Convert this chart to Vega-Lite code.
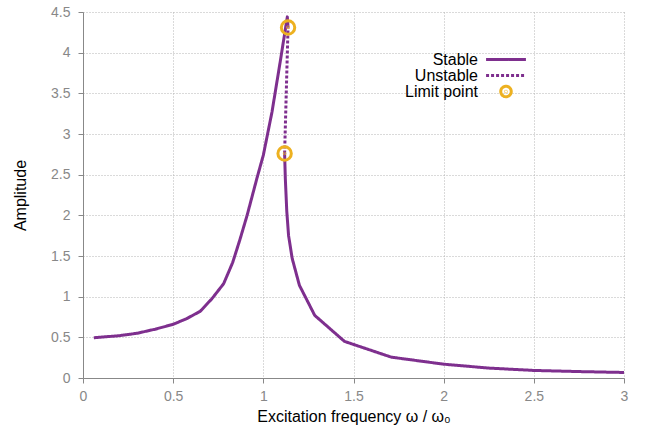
{
  "$schema": "https://vega.github.io/schema/vega-lite/v6.json",
  "width": 541,
  "height": 366,
  "autosize": "none",
  "padding": {"left": 83, "top": 12, "right": 27, "bottom": 54},
  "background": "white",
  "config": {"view": {"stroke": null}, "font": "Liberation Sans"},
  "datasets": {
    "curve": [
      {"w": 0.06, "amp": 0.495, "type": "Stable", "seg": "upper"},
      {"w": 0.2, "amp": 0.52, "type": "Stable", "seg": "upper"},
      {"w": 0.3, "amp": 0.55, "type": "Stable", "seg": "upper"},
      {"w": 0.4, "amp": 0.6, "type": "Stable", "seg": "upper"},
      {"w": 0.5, "amp": 0.66, "type": "Stable", "seg": "upper"},
      {"w": 0.575, "amp": 0.73, "type": "Stable", "seg": "upper"},
      {"w": 0.65, "amp": 0.82, "type": "Stable", "seg": "upper"},
      {"w": 0.715, "amp": 0.975, "type": "Stable", "seg": "upper"},
      {"w": 0.78, "amp": 1.16, "type": "Stable", "seg": "upper"},
      {"w": 0.83, "amp": 1.42, "type": "Stable", "seg": "upper"},
      {"w": 0.87, "amp": 1.7, "type": "Stable", "seg": "upper"},
      {"w": 0.91, "amp": 2.0, "type": "Stable", "seg": "upper"},
      {"w": 0.965, "amp": 2.46, "type": "Stable", "seg": "upper"},
      {"w": 1.0, "amp": 2.74, "type": "Stable", "seg": "upper"},
      {"w": 1.048, "amp": 3.27, "type": "Stable", "seg": "upper"},
      {"w": 1.093, "amp": 3.88, "type": "Stable", "seg": "upper"},
      {"w": 1.133, "amp": 4.44, "type": "Stable", "seg": "upper"},
      {"w": 1.137, "amp": 4.31, "type": "Stable", "seg": "upper"},
      {"w": 1.137, "amp": 4.31, "type": "Unstable", "seg": "mid"},
      {"w": 1.118, "amp": 2.76, "type": "Unstable", "seg": "mid"},
      {"w": 1.118, "amp": 2.76, "type": "Stable", "seg": "lower"},
      {"w": 1.122, "amp": 2.45, "type": "Stable", "seg": "lower"},
      {"w": 1.13, "amp": 2.05, "type": "Stable", "seg": "lower"},
      {"w": 1.14, "amp": 1.75, "type": "Stable", "seg": "lower"},
      {"w": 1.16, "amp": 1.47, "type": "Stable", "seg": "lower"},
      {"w": 1.2, "amp": 1.14, "type": "Stable", "seg": "lower"},
      {"w": 1.285, "amp": 0.77, "type": "Stable", "seg": "lower"},
      {"w": 1.45, "amp": 0.45, "type": "Stable", "seg": "lower"},
      {"w": 1.71, "amp": 0.256, "type": "Stable", "seg": "lower"},
      {"w": 2.0, "amp": 0.17, "type": "Stable", "seg": "lower"},
      {"w": 2.25, "amp": 0.122, "type": "Stable", "seg": "lower"},
      {"w": 2.5, "amp": 0.093, "type": "Stable", "seg": "lower"},
      {"w": 2.75, "amp": 0.079, "type": "Stable", "seg": "lower"},
      {"w": 3.0, "amp": 0.068, "type": "Stable", "seg": "lower"}
    ],
    "limits": [
      {"w": 1.137, "amp": 4.31, "type": "Limit point"},
      {"w": 1.118, "amp": 2.76, "type": "Limit point"}
    ]
  },
  "layer": [
    {
      "data": {"name": "curve"},
      "mark": {"type": "line", "strokeWidth": 3, "strokeCap": "butt", "strokeJoin": "round"},
      "encoding": {
        "x": {
          "field": "w", "type": "quantitative",
          "scale": {"domain": [0, 3], "nice": false, "zero": false},
          "axis": {
            "title": "Excitation frequency ω / ω₀",
            "values": [0, 0.5, 1, 1.5, 2, 2.5, 3],
            "format": "~g",
            "grid": true, "gridDash": [1, 2], "gridColor": "#b4b4b4", "gridWidth": 1,
            "domainColor": "#888888", "tickColor": "#888888", "tickSize": 5,
            "labelColor": "#888888", "labelFontSize": 14, "labelPadding": 6, "labelFlush": false,
            "titleFontSize": 16, "titleColor": "black", "titleFontWeight": "normal", "titlePadding": 5
          }
        },
        "y": {
          "field": "amp", "type": "quantitative",
          "scale": {"domain": [0, 4.5], "nice": false},
          "axis": {
            "title": "Amplitude",
            "values": [0, 0.5, 1, 1.5, 2, 2.5, 3, 3.5, 4, 4.5],
            "format": "~g",
            "grid": true, "gridDash": [1, 2], "gridColor": "#b4b4b4", "gridWidth": 1,
            "domainColor": "#888888", "tickColor": "#888888", "tickSize": 5,
            "labelColor": "#888888", "labelFontSize": 14, "labelPadding": 8,
            "titleFontSize": 16, "titleColor": "black", "titleFontWeight": "normal", "titlePadding": 22
          }
        },
        "color": {
          "field": "type", "type": "nominal",
          "scale": {"domain": ["Stable", "Unstable", "Limit point"], "range": ["#7E2F8E", "#7E2F8E", "#EDB120"]},
          "legend": {
            "orient": "none", "legendX": 415, "legendY": 39.5, "title": null, "padding": 0,
            "labelAlign": "right", "labelOffset": -36, "labelFontSize": 16, "labelColor": "black", "labelLimit": 0,
            "symbolSize": 110, "symbolStrokeWidth": 3, "rowPadding": -5,
            "encode": {
              "symbols": {
                "update": {
                  "shape": {"signal": "datum.value === 'Limit point' ? 'M-1,0A1,1,0,1,0,1,0A1,1,0,1,0,-1,0M-0.05,0A0.05,0.05,0,1,0,0.05,0A0.05,0.05,0,1,0,-0.05,0' : 'M-3.8,0H3.8'"},
                  "strokeDash": {"signal": "datum.value === 'Unstable' ? [3, 2] : [1, 0]"},
                  "stroke": {"signal": "datum.value === 'Limit point' ? '#EDB120' : '#7E2F8E'"},
                  "fill": {"value": "transparent"},
                  "strokeWidth": {"value": 3},
                  "opacity": {"value": 1}
                }
              }
            }
          }
        },
        "strokeDash": {
          "field": "type", "type": "nominal",
          "scale": {"domain": ["Stable", "Unstable"], "range": [[1, 0], [3, 2]]},
          "legend": null
        },
        "detail": {"field": "seg"}
      }
    },
    {
      "data": {"name": "limits"},
      "mark": {
        "type": "point", "filled": false, "strokeWidth": 3, "opacity": 1, "size": 180,
        "shape": "M-1,0A1,1,0,1,0,1,0A1,1,0,1,0,-1,0M-0.05,0A0.05,0.05,0,1,0,0.05,0A0.05,0.05,0,1,0,-0.05,0"
      },
      "encoding": {
        "x": {"field": "w", "type": "quantitative"},
        "y": {"field": "amp", "type": "quantitative"},
        "color": {"field": "type", "type": "nominal"}
      }
    }
  ]
}
